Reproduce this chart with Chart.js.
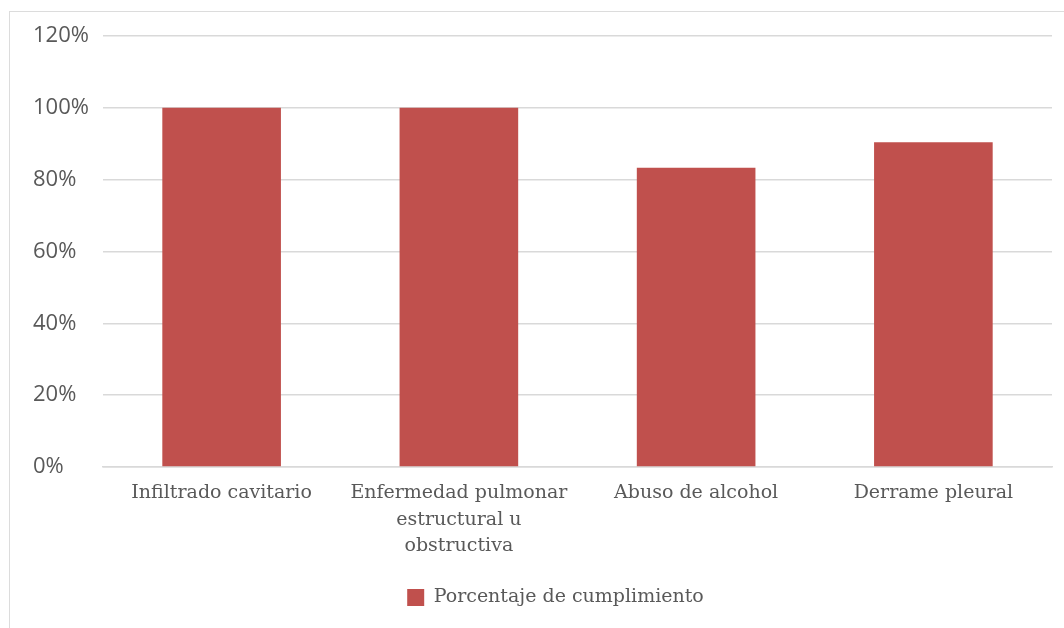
<!DOCTYPE html>
<html>
<head>
<meta charset="utf-8">
<script src="https://cdn.jsdelivr.net/npm/chart.js@4/dist/chart.umd.min.js"></script>
<style>
  html, body { margin: 0; padding: 0; background: #fff; }
  #wrap { position: relative; width: 1064px; height: 628px; overflow: hidden; }
  #frame { position: absolute; left: 9px; top: 11px; width: 1100px; height: 700px;
           border: 1px solid #dcdcdc; box-sizing: border-box; }
  #c { position: absolute; left: 0; top: 0; }
</style>
</head>
<body>
<div id="wrap">
  <div id="frame"></div>
  <canvas id="c" width="1064" height="628"></canvas>
</div>
<script>
// Categories (multi-line labels are wrapped as arrays)
const categories = [
  'Infiltrado cavitario',
  ['Enfermedad pulmonar', 'estructural u', 'obstructiva'],
  'Abuso de alcohol',
  'Derrame pleural'
];
const seriesName = 'Porcentaje de cumplimiento';
const compliance = [100, 100, 83.3, 90.4];
const yTicks = [0, 20, 40, 60, 80, 100, 120];

const barColor = '#C0504D';
const textColor = '#595959';
const gridColor = '#D9D9D9';

// Nudge the legend so it sits centred under the plot area rather than the canvas
const legendOffset = {
  id: 'legendOffset',
  afterLayout(chart) {
    if (chart.legend) {
      chart.legend.left += 13;
      chart.legend.right += 13;
    }
  }
};

new Chart(document.getElementById('c'), {
  type: 'bar',
  data: {
    labels: categories,
    datasets: [{
      label: seriesName,
      data: compliance,
      backgroundColor: barColor,
      borderWidth: 0,
      barPercentage: 1,
      categoryPercentage: 0.5
    }]
  },
  plugins: [legendOffset],
  options: {
    responsive: false,
    animation: false,
    layout: { padding: { left: 33, right: 12, top: 36, bottom: 11 } },
    plugins: {
      tooltip: { enabled: false },
      legend: {
        position: 'bottom',
        labels: {
          boxWidth: 17,
          boxHeight: 17,
          color: textColor,
          font: { family: '"DejaVu Serif", serif', size: 19 },
          padding: 10
        }
      }
    },
    scales: {
      y: {
        min: 0,
        max: 120,
        afterFit: (s) => { s.width = 70; },
        afterBuildTicks: (s) => { s.ticks = yTicks.map(v => ({ value: v })); },
        ticks: {
          crossAlign: 'far',
          color: textColor,
          font: { family: '"Open Sans", sans-serif', size: 22 },
          callback: (v) => v + '%'
        },
        grid: { color: gridColor, lineWidth: 1.5, drawTicks: false },
        border: { display: false }
      },
      x: {
        afterFit: (s) => { s.height = 111; },
        ticks: {
          color: textColor,
          maxRotation: 0,
          autoSkip: false,
          padding: 13,
          font: { family: '"DejaVu Serif", serif', size: 19, lineHeight: 1.4 }
        },
        grid: { display: false, drawTicks: false },
        border: { color: gridColor, width: 1.5 }
      }
    }
  }
});
</script>
</body>
</html>
